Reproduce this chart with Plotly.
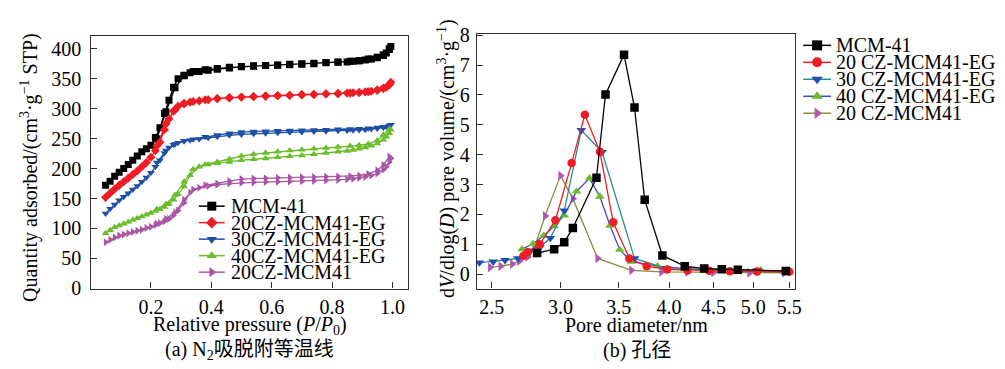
import plotly.graph_objects as go

# ---------------- data: (a) N2 isotherms ----------------
P_ADS = [0.05, 0.065, 0.08, 0.095, 0.11, 0.125, 0.14, 0.155, 0.17, 0.185,
         0.2, 0.215, 0.23, 0.245, 0.26, 0.275, 0.29, 0.31, 0.33, 0.36,
         0.39, 0.42, 0.46, 0.5, 0.54, 0.58, 0.62, 0.66, 0.7, 0.74,
         0.78, 0.82, 0.85, 0.87, 0.89, 0.91, 0.93, 0.95, 0.97, 0.98, 0.99, 0.995]
P_DES = [0.99, 0.97, 0.95, 0.92, 0.89, 0.86, 0.82, 0.78, 0.74, 0.7, 0.66, 0.62,
         0.58, 0.54, 0.5, 0.46, 0.42, 0.38, 0.34, 0.31, 0.28, 0.25, 0.22]

MCM41_ADS = [172, 179, 187, 194, 200, 207, 214, 221, 228, 233,
             239, 252, 268, 292, 314, 336, 350, 356, 360, 362,
             364, 366, 368, 370, 371, 372, 372.5, 373.5, 374, 375,
             376.5, 377.5, 378, 379, 380, 381.5, 383, 385, 389, 393, 399, 404]
MCM41_DES = [400, 390, 386, 383, 380, 379, 378, 377, 376, 375, 374, 373,
             372, 371.5, 370.5, 369, 367, 365, 362, 355, 335, 295, 250]

CZ20EG_ADS = [152, 159, 166, 172, 178, 184, 190, 196, 203, 210,
              219, 230, 244, 265, 283, 296, 304, 309, 311, 313,
              315, 316.5, 318, 319, 320, 321, 321.5, 322, 323, 323.5,
              324.5, 325, 326, 326.5, 327, 328, 329, 331, 334, 336, 340, 344]
CZ20EG_DES = [340, 334, 331, 328.5, 327, 326, 325.5, 325, 324, 323.5, 322.5, 322,
              321, 320.5, 319.5, 318.5, 317, 315, 312, 308, 298, 275, 238]

CZ30EG_ADS = [125, 133, 140, 147, 153, 159, 165, 171, 178, 185,
              193, 203, 214, 226, 235, 240, 243, 246, 247.5, 249.5,
              251.5, 253.5, 255.5, 257, 258, 259, 260, 260.5, 261, 262,
              262.5, 263, 263.5, 264, 264.5, 265, 266, 267, 268.5, 270, 271.5, 273]
CZ30EG_DES = [272, 270, 268.5, 267.5, 266.5, 266, 265.5, 265, 264.5, 264, 263.5, 263,
              262.5, 262, 261, 259, 256, 253, 249, 246, 241, 230, 210]

CZ40EG_ADS = [92, 97, 102, 105, 108, 111, 114, 117, 120, 123,
              126, 129, 132, 136, 141, 148, 157, 170, 189, 203,
              207, 209, 211, 214, 215.5, 217, 219, 220.5, 222, 224,
              226, 228, 229.5, 231, 233, 235, 238, 242, 248, 253, 259, 265]
CZ40EG_DES = [266, 256, 247, 241, 239, 237.5, 236, 234.5, 233, 231.5, 230, 228,
              226, 224, 221, 216, 211, 207, 199, 178, 156, 141, 132]

CZ20_ADS = [77, 81, 85, 88, 90, 92, 94, 96, 98, 101,
            103, 106, 109, 112, 116, 122, 130, 143, 160, 168,
            171, 173, 175, 176.5, 177, 177.5, 178, 178.5, 179, 179.5,
            180, 181, 182, 183, 184.5, 186, 188.5, 192, 198, 203, 211, 217]
CZ20_DES = [220, 206, 197, 191, 188.5, 187.5, 187, 186.5, 186, 185.5, 185, 184.5,
            184, 183.5, 182.5, 179, 175, 172, 165, 148, 127, 116, 108]

# ---------------- data: (b) pore size distribution ----------------
MCM41_D = [2.82, 2.95, 3.03, 3.10, 3.30, 3.38, 3.55, 3.65, 3.75, 3.93, 4.17, 4.39, 4.60, 4.80, 5.45]
MCM41_V = [0.71, 0.84, 1.07, 1.55, 3.23, 6.02, 7.35, 5.58, 2.49, 0.63, 0.27, 0.19, 0.17, 0.15, 0.11]

CZ20EG_D = [2.72, 2.75, 2.84, 2.96, 3.09, 3.20, 3.33, 3.45, 3.60, 3.77, 3.98, 4.20, 4.45, 4.70, 5.05, 5.50]
CZ20EG_V = [0.62, 0.74, 1.00, 1.81, 3.72, 5.34, 4.10, 1.74, 0.53, 0.27, 0.16, 0.13, 0.12, 0.10, 0.09, 0.08]

CZ30EG_D = [2.42, 2.51, 2.59, 2.68, 2.77, 2.84, 2.92, 3.03, 3.17, 3.35, 3.65, 3.97, 4.20, 4.68, 5.05, 5.47]
CZ30EG_V = [0.39, 0.42, 0.47, 0.53, 0.79, 0.90, 1.21, 2.13, 4.82, 4.09, 0.53, 0.19, 0.16, 0.13, 0.13, 0.11]

CZ40EG_D = [2.71, 2.79, 2.87, 2.95, 3.03, 3.13, 3.24, 3.33, 3.42, 3.51, 3.62, 3.88, 4.18, 4.40, 4.60, 4.80, 5.10, 5.50]
CZ40EG_V = [0.84, 1.02, 1.29, 1.61, 1.97, 2.77, 3.21, 2.60, 1.63, 0.82, 0.42, 0.27, 0.19, 0.16, 0.16, 0.14, 0.13, 0.10]

CZ20_D = [2.49, 2.56, 2.64, 2.69, 2.75, 2.80, 2.88, 3.00, 3.10, 3.31, 3.62, 3.92, 4.20, 4.50, 4.95, 5.43]
CZ20_V = [0.23, 0.27, 0.34, 0.44, 0.58, 0.90, 1.95, 3.30, 2.53, 0.53, 0.13, 0.08, 0.07, 0.06, 0.05, 0.05]

NAMES_A = ["MCM-41", "20CZ-MCM41-EG", "30CZ-MCM41-EG", "40CZ-MCM41-EG", "20CZ-MCM41"]
NAMES_B = ["MCM-41", "20 CZ-MCM41-EG", "30 CZ-MCM41-EG", "40 CZ-MCM41-EG", "20 CZ-MCM41"]
X_TICKS_A = [0.2, 0.4, 0.6, 0.8, 1.0]
Y_TICKS_A = [0, 50, 100, 150, 200, 250, 300, 350, 400]
X_TICKS_B = [2.5, 3.0, 3.5, 4.0, 4.5, 5.0, 5.5]
Y_TICKS_B = [0, 1, 2, 3, 4, 5, 6, 7, 8]

# ---------------- styles ----------------
W, H = 1005, 369
FONT = "Liberation Serif"
FONT_CJK = "Liberation Serif, Noto Sans CJK SC"
FS = 20
AXC = "#303030"

STYLE_A = [  # (line colour, marker colour, symbol)
    ("#000000", "#000000", "square"),
    ("#ee1c24", "#ee1c24", "diamond"),
    ("#1f4fa6", "#1f4fa6", "triangle-down"),
    ("#6cbd2c", "#6cbd2c", "triangle-up"),
    ("#a955a6", "#a955a6", "triangle-right"),
]
STYLE_B = [
    ("#000000", "#000000", "square"),
    ("#ee1c24", "#ee1c24", "circle"),
    ("#2a8a8c", "#1f4fb0", "triangle-down"),
    ("#3a50c4", "#6cbd2c", "triangle-up"),
    ("#8c8c3a", "#ae58ae", "triangle-right"),
]

fig = go.Figure()

ads = [MCM41_ADS, CZ20EG_ADS, CZ30EG_ADS, CZ40EG_ADS, CZ20_ADS]
des = [MCM41_DES, CZ20EG_DES, CZ30EG_DES, CZ40EG_DES, CZ20_DES]
for i in range(5):
    lc, mc, sym = STYLE_A[i]
    fig.add_trace(go.Scatter(
        x=P_ADS + P_DES, y=ads[i] + des[i], mode="lines+markers",
        line=dict(color=lc, width=1.3),
        marker=dict(symbol=sym, size=7, color=mc, line=dict(width=0)),
        name=NAMES_A[i], showlegend=False, xaxis="x", yaxis="y"))

psd = [(MCM41_D, MCM41_V), (CZ20EG_D, CZ20EG_V), (CZ30EG_D, CZ30EG_V),
       (CZ40EG_D, CZ40EG_V), (CZ20_D, CZ20_V)]
for i in [4, 3, 2, 1, 0]:
    lc, mc, sym = STYLE_B[i]
    d, v = psd[i]
    fig.add_trace(go.Scatter(
        x=d, y=v, mode="lines+markers",
        line=dict(color=lc, width=1.3),
        marker=dict(symbol=sym, size=8.5, color=mc, line=dict(width=0)),
        name=NAMES_B[i], showlegend=False, xaxis="x2", yaxis="y2"))

# ---------------- hand-made legends (pixel overlay axis) ----------------
annotations = []


def add_legend(names, styles, x0, x1, xt, ytop, gap, msize):
    for i, nm in enumerate(names):
        lc, mc, sym = styles[i]
        yy = ytop + i * gap
        fig.add_trace(go.Scatter(x=[x0, x1], y=[yy, yy], mode="lines",
                                 line=dict(color=lc, width=1.5), showlegend=False,
                                 xaxis="x3", yaxis="y3", hoverinfo="skip"))
        fig.add_trace(go.Scatter(x=[(x0 + x1) / 2], y=[yy], mode="markers",
                                 marker=dict(symbol=sym, size=msize, color=mc, line=dict(width=0)),
                                 showlegend=False, xaxis="x3", yaxis="y3", hoverinfo="skip"))
        annotations.append(dict(x=xt / W, y=1 - yy / H, xref="paper", yref="paper",
                                text=nm, showarrow=False, xanchor="left", yanchor="middle",
                                font=dict(family=FONT, size=FS, color="black")))


add_legend(NAMES_A, STYLE_A, 192, 218, 222, 199.5, 17.5, 9)
add_legend(NAMES_B, STYLE_B, 800, 828, 831, 29, 18, 10)


def ann(x, y, text, angle=0, family=FONT):
    annotations.append(dict(x=x / W, y=1 - y / H, xref="paper", yref="paper", text=text,
                            showarrow=False, xanchor="center", yanchor="middle",
                            textangle=angle, font=dict(family=family, size=FS, color="black")))


ann(21, 158, "Quantity adsorbed/(cm<sup>3</sup>·g<sup>−1</sup> STP)", -90)
ann(441, 149, "d<i>V</i>/dlog(<i>D</i>) pore volume/(cm<sup>3</sup>·g<sup>−1</sup>)", -90)
ann(243, 326, "Relative pressure (<i>P</i>/<i>P</i><sub>0</sub>)")
ann(632, 326, "Pore diameter/nm")
ann(243, 353, "(a) N<sub>2</sub>吸脱附等温线", family=FONT_CJK)
ann(633, 353, "(b) 孔径", family=FONT_CJK)

axis_common = dict(showline=True, linecolor=AXC, linewidth=1.4, mirror=True,
                   ticks="inside", ticklen=6, tickwidth=1.2, tickcolor=AXC,
                   showgrid=False, zeroline=False,
                   tickfont=dict(family=FONT, size=FS, color="black"))

fig.update_layout(
    width=W, height=H, margin=dict(l=0, r=0, t=0, b=0),
    paper_bgcolor="white", plot_bgcolor="rgba(0,0,0,0)", showlegend=False,
    annotations=annotations,
    xaxis=dict(domain=[83 / W, 402 / W], range=[0, 1.0504], anchor="y",
               tickvals=X_TICKS_A, ticktext=[f"{t:.1f}" for t in X_TICKS_A], **axis_common),
    yaxis=dict(domain=[1 - 287 / H, 1 - 19 / H], range=[-0.5, 421.5], anchor="x",
               ticklabelstandoff=4,
               tickvals=Y_TICKS_A, ticktext=[str(t) for t in Y_TICKS_A], **axis_common),
    xaxis2=dict(domain=[471.7 / W, 792 / W], type="log", range=[0.3809, 0.7473], anchor="y2",
                tickvals=X_TICKS_B, ticktext=[f"{t:.1f}" for t in X_TICKS_B], **axis_common),
    yaxis2=dict(domain=[1 - 287 / H, 1 - 17 / H], range=[-0.483, 8.04], anchor="x2",
                ticklabelstandoff=2,
                tickvals=Y_TICKS_B, ticktext=[str(t) for t in Y_TICKS_B], **axis_common),
    xaxis3=dict(domain=[0, 1], range=[0, W], visible=False, fixedrange=True, anchor="y3"),
    yaxis3=dict(domain=[0, 1], range=[H, 0], visible=False, fixedrange=True, anchor="x3"),
)

fig.write_html("out.html", config={"displayModeBar": False})
